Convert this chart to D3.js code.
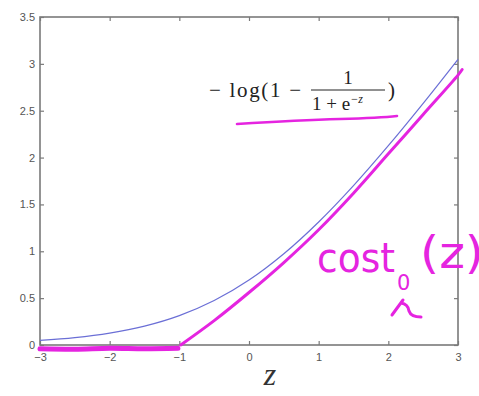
<!DOCTYPE html>
<html><head><meta charset="utf-8">
<script src="https://cdn.jsdelivr.net/npm/d3@7"></script>
<style>body{margin:0;background:#fff}svg{display:block}</style>
</head><body>
<script>
const zBlue = [-3,-2.5,-2,-1.5,-1,-0.5,0,0.5,1,1.5,2,2.5,3];
const logCost = [0.049,0.079,0.127,0.201,0.313,0.474,0.693,0.974,1.313,1.701,2.127,2.579,3.049];
const zFlat = [-3,-2.5,-2,-1.5,-1.02];
const flatCost = [-0.04,-0.045,-0.035,-0.04,-0.035];
const zRamp = [-0.98,-0.5,0,0.5,1,1.5,2,2.5,3,3.06];
const rampCost = [0,0.26,0.56,0.88,1.23,1.62,2.04,2.46,2.88,2.94];
const xTicks = [-3,-2,-1,0,1,2,3];
const yTicks = [0,0.5,1,1.5,2,2.5,3,3.5];

const W=479,H=396;
const svg=d3.select("body").append("svg").attr("width",W).attr("height",H);
const x=d3.scaleLinear().domain([-3,3]).range([40,458]);
const y=d3.scaleLinear().domain([0,3.5]).range([345,17]);
const axisCol="#7a7a7a";

svg.append("rect").attr("x",40).attr("y",17).attr("width",418).attr("height",328)
  .attr("fill","none").attr("stroke",axisCol).attr("stroke-width",1.6);

function styleAxis(g){g.select(".domain").remove();g.selectAll("line").attr("stroke",axisCol).attr("stroke-width",1.2);
  g.selectAll("text").attr("fill","#555").attr("font-family","Liberation Sans, Arial, sans-serif").attr("font-size",11);}
svg.append("g").attr("transform","translate(0,345)")
  .call(d3.axisBottom(x).tickValues(xTicks).tickSize(-4).tickPadding(8).tickFormat(d3.format("d"))).call(styleAxis);
svg.append("g").attr("transform","translate(0,17)")
  .call(d3.axisTop(x).tickValues(xTicks).tickSize(-4).tickFormat("")).call(styleAxis);
svg.append("g").attr("transform","translate(40,0)")
  .call(d3.axisLeft(y).tickValues(yTicks).tickSize(-4).tickPadding(5).tickFormat(d3.format("~g"))).call(styleAxis);
svg.append("g").attr("transform","translate(458,0)")
  .call(d3.axisRight(y).tickValues(yTicks).tickSize(-4).tickFormat("")).call(styleAxis);

const line=d3.line().x(d=>x(d[0])).y(d=>y(d[1])).curve(d3.curveCatmullRom);
svg.append("path").datum(zBlue.map((z,i)=>[z,logCost[i]]))
  .attr("d",line).attr("fill","none").attr("stroke","#6b6fd6").attr("stroke-width",1.2);

const mag="#e524e0";
svg.append("path").datum(zFlat.map((z,i)=>[z,flatCost[i]]))
  .attr("d",line).attr("fill","none").attr("stroke",mag).attr("stroke-width",5).attr("stroke-linecap","round");
svg.append("path").datum(zRamp.map((z,i)=>[z,rampCost[i]]))
  .attr("d",line).attr("fill","none").attr("stroke",mag).attr("stroke-width",3).attr("stroke-linecap","round");

// math label
const serif="Liberation Serif, Times New Roman, serif";
const lab=svg.append("g").attr("font-family",serif).attr("fill","#222");
lab.append("text").attr("x",209).attr("y",97).attr("font-size",21).attr("textLength",92).attr("lengthAdjust","spacing").text("\u2212 log(1 \u2212");
lab.append("text").attr("x",348).attr("y",84).attr("font-size",19).attr("text-anchor","middle").text("1");
lab.append("line").attr("x1",311).attr("x2",385).attr("y1",90).attr("y2",90).attr("stroke","#222").attr("stroke-width",1);
const den=lab.append("text").attr("x",312).attr("y",110).attr("font-size",19);
den.append("tspan").text("1 + e");
den.append("tspan").attr("dy",-7).attr("font-size",12).attr("font-style","italic").text("\u2212z");
lab.append("text").attr("x",388).attr("y",97).attr("font-size",21).text(")");
svg.append("path").attr("d","M237,124 Q300,120 340,119 T397,116").attr("fill","none")
  .attr("stroke",mag).attr("stroke-width",2.6).attr("stroke-linecap","round");

// x label
svg.append("text").attr("x",270).attr("y",385).attr("text-anchor","middle")
  .attr("font-family",serif).attr("font-style","italic").attr("font-size",32).attr("fill","#333").text("z");

// handwritten annotation
const hand=svg.append("g").attr("fill",mag).attr("font-family","DejaVu Sans, sans-serif");
hand.append("text").attr("x",317).attr("y",272).attr("font-size",40).attr("textLength",78).attr("lengthAdjust","spacingAndGlyphs").text("cost");
hand.append("text").attr("x",397).attr("y",290).attr("font-size",21).text("0");
hand.append("text").attr("x",420).attr("y",268).attr("font-size",44).attr("textLength",64).attr("lengthAdjust","spacingAndGlyphs").text("(z)");
svg.append("path").attr("d","M392,315 L403,300 M401,303 Q408,304 409,311 Q411,317 421,317")
  .attr("fill","none").attr("stroke",mag).attr("stroke-width",3).attr("stroke-linecap","round").attr("stroke-linejoin","round");
</script>
</body></html>
